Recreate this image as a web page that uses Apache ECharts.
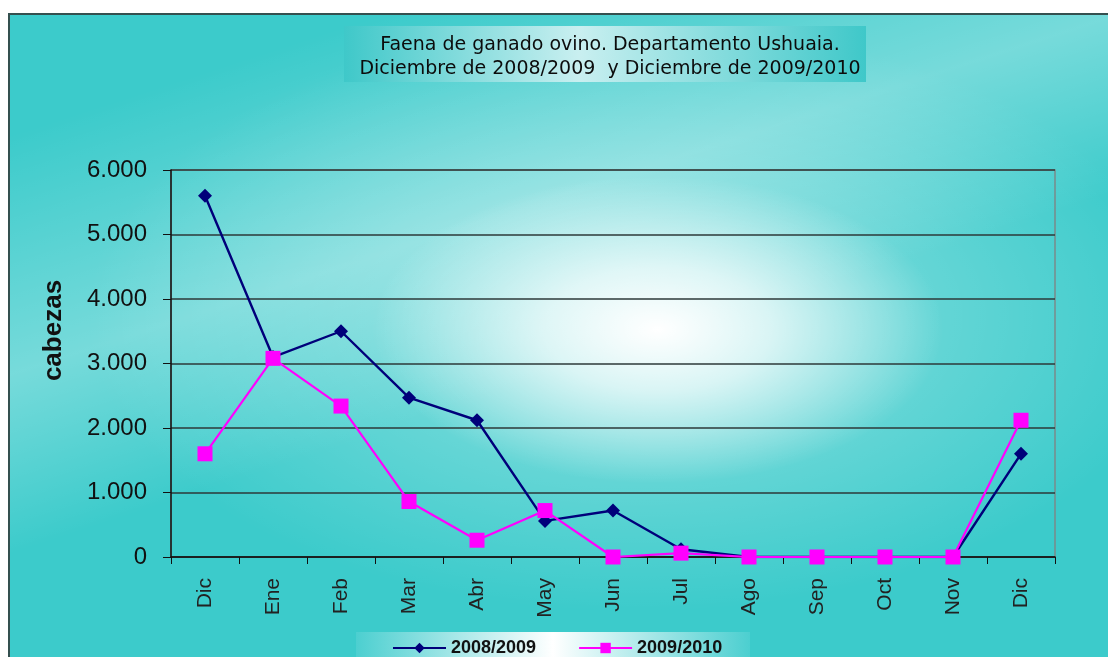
<!DOCTYPE html>
<html>
<head>
<meta charset="utf-8">
<title>Faena de ganado ovino - Ushuaia</title>
<script src="https://cdn.jsdelivr.net/npm/echarts@6/dist/echarts.min.js"></script>
<style>
  html, body { margin: 0; padding: 0; background: #fff; }
  .frame {
    position: absolute; left: 8px; top: 13px; width: 1100px; height: 644px;
    border-left: 2px solid #34504f; border-top: 2px solid #34504f;
    box-sizing: border-box;
    background:
      radial-gradient(ellipse 26% 24% at 59% 49%, rgba(255,255,255,1) 0%, rgba(255,255,255,0.7) 40%, rgba(255,255,255,0) 100%),
      linear-gradient(162deg, rgba(255,255,255,0) 12%, rgba(255,255,255,0.3) 36%, rgba(255,255,255,0) 54%),
      radial-gradient(ellipse 50% 46% at 57% 47%, rgba(255,255,255,0.45) 0%, rgba(255,255,255,0) 100%),
      #3ccbcb;
  }
  #chart { position: absolute; left: 0; top: 0; width: 1108px; height: 657px; }
</style>
</head>
<body>
<div class="frame"></div>
<div id="chart"></div>
<script>
const meses = ['Dic', 'Ene', 'Feb', 'Mar', 'Abr', 'May', 'Jun', 'Jul', 'Ago', 'Sep', 'Oct', 'Nov', 'Dic']
const temp0809 = [5600, 3100, 3500, 2470, 2120, 560, 720, 120, 0, 0, 0, 0, 1600]
const temp0910 = [1600, 3080, 2340, 860, 260, 720, 0, 60, 0, 0, 0, 0, 2120]
const nombres = ['2008/2009', '2009/2010']

const myChart = echarts.init(document.getElementById('chart'))

// separador de miles con punto
const fmt = v => String(v).replace(/\B(?=(\d{3})+(?!\d))/g, '.')

const option = {
  backgroundColor: 'transparent',
  animation: false,
  textStyle: { fontFamily: 'Liberation Sans, Arial, sans-serif' },
  graphic: [
    {
      type: 'rect', left: 344, top: 26, z: 0,
      shape: { width: 522, height: 56 },
      style: {
        fill: new echarts.graphic.LinearGradient(0, 0, 1, 0, [
          { offset: 0, color: '#3fc8c9' },
          { offset: 0.45, color: '#c9eff0' },
          { offset: 1, color: '#3fc8c9' }
        ])
      }
    },
    {
      type: 'rect', left: 356, top: 632, z: 0,
      shape: { width: 394, height: 25 },
      style: {
        fill: new echarts.graphic.LinearGradient(0, 0, 1, 0, [
          { offset: 0, color: '#4ccfd0' },
          { offset: 0.5, color: '#ffffff' },
          { offset: 1, color: '#4ccfd0' }
        ])
      }
    }
  ],
  title: {
    text: 'Faena de ganado ovino. Departamento Ushuaia.\nDiciembre de 2008/2009  y Diciembre de 2009/2010',
    left: 605,
    top: 28,
    textAlign: 'center',
    textStyle: {
      fontSize: 19,
      fontWeight: 'normal',
      color: '#0c0c0c',
      lineHeight: 24,
      fontFamily: 'DejaVu Sans, Verdana, sans-serif'
    }
  },
  legend: {
    data: nombres,
    left: 392,
    top: 639,
    padding: 0,
    itemWidth: 53,
    itemHeight: 13,
    itemGap: 42,
    textStyle: { fontSize: 18, fontWeight: 'bold', color: '#111' }
  },
  grid: {
    left: 171,
    right: 53,
    top: 170,
    bottom: 100,
    show: true,
    borderColor: '#7a8a8a',
    borderWidth: 1.5,
    backgroundColor: 'transparent'
  },
  xAxis: {
    type: 'category',
    data: meses,
    boundaryGap: true,
    axisLine: { lineStyle: { color: '#111', width: 1.5 } },
    axisTick: { show: true, length: 7, lineStyle: { color: '#111' } },
    axisLabel: {
      rotate: 90,
      fontSize: 21,
      color: '#222',
      margin: 21
    }
  },
  yAxis: {
    type: 'value',
    min: 0,
    max: 6000,
    interval: 1000,
    name: 'cabezas',
    nameLocation: 'middle',
    nameGap: 104,
    nameTextStyle: { fontSize: 26, fontWeight: 'bold', color: '#111', padding: [0, 0, 0, 66] },
    axisLine: { show: true, lineStyle: { color: '#111', width: 1.5 } },
    axisTick: { show: true, length: 8, lineStyle: { color: '#111' } },
    axisLabel: {
      fontSize: 24,
      color: '#111',
      margin: 24,
      formatter: v => fmt(v)
    },
    splitLine: { lineStyle: { color: '#2c3838', width: 1.6 } }
  },
  series: [
    {
      name: nombres[0],
      type: 'line',
      data: temp0809,
      symbol: 'diamond',
      symbolSize: 14,
      z: 3,
      lineStyle: { color: '#00007a', width: 2.4 },
      itemStyle: { color: '#00007a' }
    },
    {
      name: nombres[1],
      type: 'line',
      data: temp0910,
      symbol: 'rect',
      symbolSize: 15,
      z: 4,
      lineStyle: { color: '#ff00ff', width: 2.2 },
      itemStyle: { color: '#ff00ff' }
    }
  ]
}

myChart.setOption(option)

window.addEventListener('resize', () => {
  myChart.resize()
})
</script>
</body>
</html>
